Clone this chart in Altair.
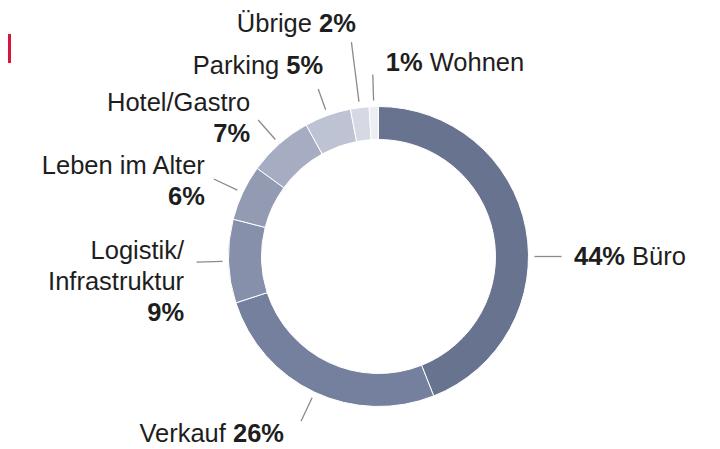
import math
import altair as alt
import pandas as pd

# ---------------- data ----------------
categories = ["Büro", "Verkauf", "Logistik/Infrastruktur", "Leben im Alter",
              "Hotel/Gastro", "Parking", "Übrige", "Wohnen"]
shares = [44, 26, 9, 6, 7, 5, 2, 1]
name_lines = [["Büro"], ["Verkauf"], ["Logistik/", "Infrastruktur"], ["Leben im Alter"],
              ["Hotel/Gastro"], ["Parking"], ["Übrige"], ["Wohnen"]]
colors = ["#68738f", "#75809e", "#8690aa", "#939bb3",
          "#a6adc3", "#bec3d3", "#d6d9e4", "#eceef4"]

# ---------------- layout / style ----------------
W, H = 704, 441
CX, CY = 370.5, 248.5          # donut centre inside the plot
R_IN, R_OUT = 117, 150
R_LEAD = 156                   # leader line start radius
FONT = "Liberation Sans"
FS = 25.5
LH = 31
TXT = "#1e1e1e"

label_style = {
    "Büro": dict(form="pct_first", align="left", angle=90, r2=183, dx=12.5, dy=8),
    "Verkauf": dict(form="name_first", align="right", r2=182, dx=-17, dy=21),
    "Logistik/Infrastruktur": dict(form="stack", align="right", r2=182, dx=-12.5, dy=-3),
    "Leben im Alter": dict(form="stack", align="right", r2=182, dx=-9, dy=-5),
    "Hotel/Gastro": dict(form="stack", align="right", r2=182, dx=-8, dy=-9),
    "Parking": dict(form="name_first", align="right", r2=178, dx=5, dy=-15),
    "Übrige": dict(form="name_first", align="right", r2=216, dx=4.5, dy=-10.5),
    "Wohnen": dict(form="pct_first", align="left", r2=182, dx=13, dy=-4),
}

# Arial/Liberation metrics (per 1000 em) for the bold percentage strings
BOLD_W = {"%": 889, " ": 278, **{d: 556 for d in "0123456789"}}


def bold_width(s):
    return sum(BOLD_W[c] for c in s) * FS / 1000.0


SPACE = 278 * FS / 1000.0

# ---------------- derived tables ----------------
total = float(sum(shares))
arcs = pd.DataFrame({"cat": categories, "value": shares, "idx": list(range(len(shares)))})

lead_rows, text_rows = [], []
cum = 0.0
for cat, v, names in zip(categories, shares, name_lines):
    mid = (cum + v / 2.0) / total * 360.0
    cum += v
    st = label_style[cat]
    ang = math.radians(st.get("angle", mid))
    sx, cy_ = math.sin(ang), math.cos(ang)
    x1, y1 = R_LEAD * sx, R_LEAD * cy_
    x2, y2 = st["r2"] * sx, st["r2"] * cy_
    lead_rows.append(dict(x=x1, y=y1, x2=x2, y2=y2))
    ax, ay = x2 + st["dx"], y2 - st["dy"]
    pct = f"{v}%"
    if st["form"] == "pct_first":
        text_rows.append(dict(x=ax, y=ay, t=pct, al="left", w="bold"))
        text_rows.append(dict(x=ax + bold_width(pct) + SPACE, y=ay, t=names[0], al="left", w="normal"))
    elif st["form"] == "name_first":
        text_rows.append(dict(x=ax, y=ay, t=pct, al="right", w="bold"))
        text_rows.append(dict(x=ax - bold_width(pct) - SPACE, y=ay, t=names[0], al="right", w="normal"))
    else:
        for i, n in enumerate(names):
            text_rows.append(dict(x=ax, y=ay - i * LH, t=n, al="right", w="normal"))
        text_rows.append(dict(x=ax, y=ay - len(names) * LH, t=pct, al="right", w="bold"))

leads = pd.DataFrame(lead_rows)
texts = pd.DataFrame(text_rows)

xs = alt.Scale(domain=[-CX, W - CX], nice=False, zero=False)
ys = alt.Scale(domain=[-(H - CY), CY], nice=False, zero=False)

ring = alt.Chart(arcs).mark_arc(innerRadius=R_IN, outerRadius=R_OUT, stroke="white",
                                strokeWidth=1).encode(
    theta=alt.Theta("value:Q", stack=True),
    order=alt.Order("idx:Q"),
    color=alt.Color("cat:N", scale=alt.Scale(domain=categories, range=colors), legend=None),
    x=alt.XDatum(0, type="quantitative", scale=xs, axis=None),
    y=alt.YDatum(0, type="quantitative", scale=ys, axis=None),
)

lines = alt.Chart(leads).mark_rule(color="#8a8a8a", strokeWidth=1.3).encode(
    x=alt.X("x:Q", scale=xs, axis=None),
    y=alt.Y("y:Q", scale=ys, axis=None),
    x2="x2:Q",
    y2="y2:Q",
)

text_layers = []
for al in ["left", "right"]:
    for w in ["normal", "bold"]:
        text_layers.append(
            alt.Chart(texts).transform_filter(
                (alt.datum.al == al) & (alt.datum.w == w)
            ).mark_text(align=al, baseline="alphabetic", font=FONT, fontSize=FS,
                        fontWeight=w, color=TXT).encode(
                x=alt.X("x:Q", scale=xs, axis=None),
                y=alt.Y("y:Q", scale=ys, axis=None),
                text="t:N",
            )
        )

red_mark = alt.Chart(arcs).mark_rect(color="#d6143c").encode(
    x=alt.value(0), x2=alt.value(3), y=alt.value(26), y2=alt.value(55)
)

chart = alt.layer(ring, lines, *text_layers, red_mark).properties(
    width=W, height=H, padding=0, background="white"
).configure_view(stroke=None)

chart.save("out.html", embed_options={"renderer": "svg", "actions": False})
